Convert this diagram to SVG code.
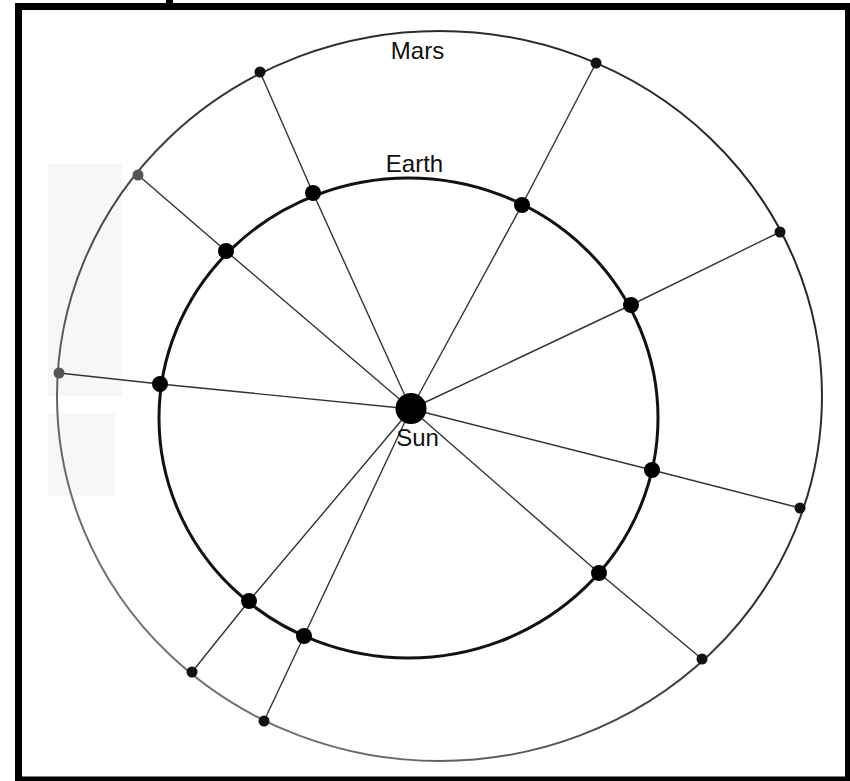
<svg xmlns="http://www.w3.org/2000/svg" width="850" height="781" viewBox="0 0 850 781">
<defs>
<linearGradient id="marsGrad" x1="1" y1="0" x2="0" y2="1">
<stop offset="0" stop-color="#222"/>
<stop offset="0.45" stop-color="#333"/>
<stop offset="1" stop-color="#8a8a8a"/>
</linearGradient>
</defs>
<style>
.lbl{font-family:"Liberation Sans",Arial,sans-serif;font-size:24px;fill:#111;text-anchor:middle}
.spoke{stroke:#333;stroke-width:1.4;fill:none;stroke-linecap:round}
.edot{fill:#000}
.mdot{fill:#111}
.mdotg{fill:#555}
</style>
<rect x="0" y="0" width="850" height="781" fill="#fff"/>
<rect x="48" y="164" width="74" height="232" fill="#f7f7f7"/>
<rect x="48" y="413" width="67" height="83" fill="#f7f7f7"/>
<rect x="166" y="0" width="7" height="4" fill="#000"/>
<g id="connectors">
<line class="spoke" x1="411" y1="409" x2="313" y2="193"/>
<line class="spoke" x1="313" y1="193" x2="260" y2="72"/>
<line class="spoke" x1="411" y1="409" x2="522" y2="205"/>
<line class="spoke" x1="522" y1="205" x2="596" y2="63"/>
<line class="spoke" x1="411" y1="409" x2="631" y2="305"/>
<line class="spoke" x1="631" y1="305" x2="780" y2="232"/>
<line class="spoke" x1="411" y1="409" x2="652" y2="470"/>
<line class="spoke" x1="652" y1="470" x2="800" y2="508"/>
<line class="spoke" x1="411" y1="409" x2="599" y2="573"/>
<line class="spoke" x1="599" y1="573" x2="702" y2="659"/>
<line class="spoke" x1="411" y1="409" x2="304" y2="636"/>
<line class="spoke" x1="304" y1="636" x2="264" y2="721"/>
<line class="spoke" x1="411" y1="409" x2="249" y2="601"/>
<line class="spoke" x1="249" y1="601" x2="192" y2="672"/>
<line class="spoke" x1="411" y1="409" x2="160" y2="384"/>
<line class="spoke" x1="160" y1="384" x2="59" y2="373"/>
<line class="spoke" x1="411" y1="409" x2="226" y2="251"/>
<line class="spoke" x1="226" y1="251" x2="138" y2="175"/>
</g>
<g id="mars-orbit">
<ellipse cx="439.5" cy="396" rx="382.5" ry="365" fill="none" stroke="url(#marsGrad)" stroke-width="2"/>
<text class="lbl" x="417.5" y="59">Mars</text>
</g>
<g id="earth-orbit">
<ellipse cx="408.5" cy="418" rx="249.5" ry="240" fill="none" stroke="#111" stroke-width="3"/>
<text class="lbl" x="414.5" y="172">Earth</text>
</g>
<g id="sun">
<circle cx="411" cy="408.5" r="15.5" fill="#000"/>
<text class="lbl" x="417.5" y="446">Sun</text>
</g>
<g id="earth-1"><circle class="edot" cx="313" cy="193" r="8"/></g>
<g id="earth-2"><circle class="edot" cx="522" cy="205" r="8"/></g>
<g id="earth-3"><circle class="edot" cx="631" cy="305" r="8"/></g>
<g id="earth-4"><circle class="edot" cx="652" cy="470" r="8"/></g>
<g id="earth-5"><circle class="edot" cx="599" cy="573" r="8"/></g>
<g id="earth-6"><circle class="edot" cx="304" cy="636" r="8"/></g>
<g id="earth-7"><circle class="edot" cx="249" cy="601" r="8"/></g>
<g id="earth-8"><circle class="edot" cx="160" cy="384" r="8"/></g>
<g id="earth-9"><circle class="edot" cx="226" cy="251" r="8"/></g>
<g id="mars-1"><circle class="mdot" cx="260" cy="72" r="5.5"/></g>
<g id="mars-2"><circle class="mdot" cx="596" cy="63" r="5.5"/></g>
<g id="mars-3"><circle class="mdot" cx="780" cy="232" r="5.5"/></g>
<g id="mars-4"><circle class="mdot" cx="800" cy="508" r="5.5"/></g>
<g id="mars-5"><circle class="mdot" cx="702" cy="659" r="5.5"/></g>
<g id="mars-6"><circle class="mdot" cx="264" cy="721" r="5.5"/></g>
<g id="mars-7"><circle class="mdot" cx="192" cy="672" r="5.5"/></g>
<g id="mars-8"><circle class="mdotg" cx="59" cy="373" r="5.5"/></g>
<g id="mars-9"><circle class="mdotg" cx="138" cy="175" r="5.5"/></g>
<rect x="18.5" y="6.5" width="830" height="773.5" fill="none" stroke="#000" stroke-width="7"/>
</svg>
